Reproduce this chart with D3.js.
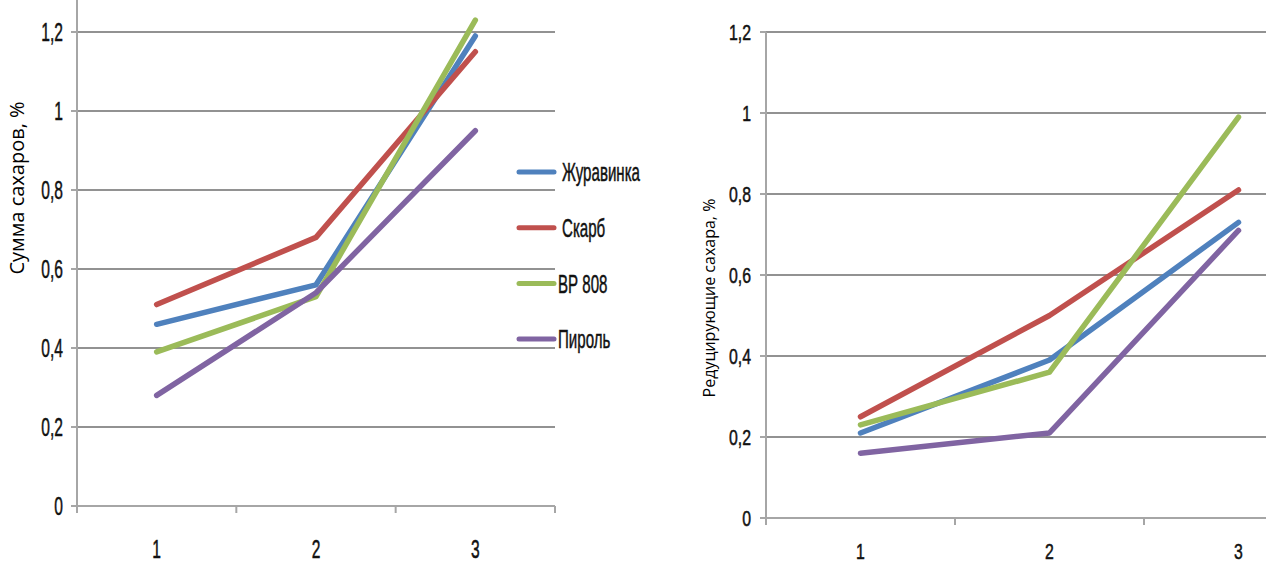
<!DOCTYPE html>
<html>
<head>
<meta charset="utf-8">
<script src="https://cdn.jsdelivr.net/npm/d3@7"></script>
<style>
  body { margin: 0; background: #fff; }
  svg { display: block; }
  .tick-lbl { font-family: "Liberation Sans", Arial, sans-serif; fill: #111; stroke: #111; stroke-width: 0.5px; }
  .title { font-family: "Open Sans", "Noto Sans", sans-serif; fill: #000; }
</style>
</head>
<body>
<div id="graph"></div>
<script>
// data
var stages = [1, 2, 3];
var varieties = ["Журавинка", "Скарб", "ВР 808", "Пироль"];
var colors = ["#4f81bd", "#c0504d", "#9bbb59", "#8064a2"];
var totalSugar = [
  [0.46, 0.56, 1.19],
  [0.51, 0.68, 1.15],
  [0.39, 0.53, 1.23],
  [0.28, 0.54, 0.95]
];
var reducingSugar = [
  [0.21, 0.39, 0.73],
  [0.25, 0.50, 0.81],
  [0.23, 0.36, 0.99],
  [0.16, 0.21, 0.71]
];
var yTicks = [0, 0.2, 0.4, 0.6, 0.8, 1, 1.2];
var leftTitle = "Сумма сахаров, %";
var rightTitle = "Редуцирующие сахара, %";

var svg = d3.select("#graph").append("svg")
    .attr("width", 1266)
    .attr("height", 564);

var fmt = function(d) { return String(d).replace(".", ","); };

// narrow, tall text like the original squeezed picture
function narrow(sel, sx) {
  return sel.attr("transform", function() {
    var t = d3.select(this);
    return "translate(" + t.attr("data-x") + "," + t.attr("data-y") + ") scale(" + sx + ",1)";
  });
}

function drawChart(opt) {
  var x = d3.scaleLinear().domain([0.5, 3.5]).range([opt.x0, opt.x1]),
      y = d3.scaleLinear().domain([0, opt.yMax]).range([opt.y0, opt.yTop]);

  var g = svg.append("g");

  // gridlines
  g.selectAll(".grid")
      .data(yTicks.slice(1))
      .enter().append("line")
      .attr("x1", opt.x0 - 6).attr("x2", opt.x1)
      .attr("y1", function(d) { return y(d); })
      .attr("y2", function(d) { return y(d); })
      .attr("stroke", "#929292")
      .attr("stroke-width", 2);

  // y axis line and ticks
  g.append("line")
      .attr("x1", opt.x0).attr("x2", opt.x0)
      .attr("y1", y(0)).attr("y2", opt.axisTop)
      .attr("stroke", "#a6a6a6").attr("stroke-width", 2);
  g.selectAll(".ytick")
      .data(yTicks)
      .enter().append("line")
      .attr("x1", opt.x0 - 6).attr("x2", opt.x0)
      .attr("y1", function(d) { return y(d); })
      .attr("y2", function(d) { return y(d); })
      .attr("stroke", "#a6a6a6").attr("stroke-width", 2);
  g.selectAll(".ylbl")
      .data(yTicks)
      .enter().append("text")
      .attr("class", "tick-lbl")
      .attr("data-x", opt.x0 - opt.lblGap)
      .attr("data-y", function(d) { return y(d); })
      .attr("dy", "0.36em")
      .attr("text-anchor", "end")
      .style("font-size", opt.yFont + "px")
      .text(fmt)
      .call(narrow, opt.sx);

  // x axis with ticks at category boundaries
  g.append("line")
      .attr("x1", opt.x0).attr("x2", opt.x1)
      .attr("y1", y(0)).attr("y2", y(0))
      .attr("stroke", "#a6a6a6").attr("stroke-width", 2);
  g.selectAll(".xtick")
      .data([0.5, 1.5, 2.5, 3.5])
      .enter().append("line")
      .attr("x1", function(d) { return x(d); })
      .attr("x2", function(d) { return x(d); })
      .attr("y1", y(0)).attr("y2", y(0) + 7)
      .attr("stroke", "#a6a6a6").attr("stroke-width", 2);
  g.selectAll(".xlbl")
      .data(stages)
      .enter().append("text")
      .attr("class", "tick-lbl")
      .attr("data-x", function(d) { return x(d); })
      .attr("data-y", opt.xLblY)
      .attr("text-anchor", "middle")
      .style("font-size", opt.xFont + "px")
      .text(function(d) { return d; })
      .call(narrow, opt.sx);

  // axis title
  g.append("text")
      .attr("class", "title")
      .attr("transform", "translate(" + opt.titleX + "," + opt.titleY + ") rotate(-90)")
      .attr("text-anchor", "middle")
      .style("font-size", opt.titleFont + "px")
      .text(opt.title);

  var line = d3.line()
      .x(function(d, i) { return x(stages[i]); })
      .y(function(d) { return y(d); });

  g.selectAll(".series")
      .data(opt.data)
      .enter().append("path")
      .attr("d", function(d) { return line(d); })
      .attr("fill", "none")
      .attr("stroke", function(d, i) { return colors[i]; })
      .attr("stroke-width", 5.5)
      .attr("stroke-linecap", "round")
      .attr("stroke-linejoin", "round");
}

drawChart({
  x0: 77, x1: 555, y0: 506, yTop: -47, yMax: 1.4, axisTop: 0,
  data: totalSugar, lblGap: 14, yFont: 26, xFont: 26, xLblY: 558, sx: 0.6,
  title: leftTitle, titleX: 24, titleY: 188, titleFont: 20
});

drawChart({
  x0: 766, x1: 1333, y0: 518, yTop: 32, yMax: 1.2, axisTop: 32,
  data: reducingSugar, lblGap: 15, yFont: 22, xFont: 22, xLblY: 559, sx: 0.72,
  title: rightTitle, titleX: 715, titleY: 298, titleFont: 16
});

// legend
var legend = svg.selectAll(".legend")
    .data(varieties)
    .enter().append("g")
    .attr("transform", function(d, i) { return "translate(519," + (172 + i * 55.7) + ")"; });

legend.append("line")
    .attr("x1", 0).attr("x2", 35)
    .attr("stroke", function(d, i) { return colors[i]; })
    .attr("stroke-width", 5)
    .attr("stroke-linecap", "round");

legend.append("text")
    .attr("class", "tick-lbl")
    .attr("data-x", function(d, i) { return i < 2 ? 43 : 39; })
    .attr("data-y", 0)
    .attr("dy", "0.36em")
    .style("font-size", "26px")
    .text(function(d) { return d; })
    .call(narrow, 0.58);
</script>
</body>
</html>
